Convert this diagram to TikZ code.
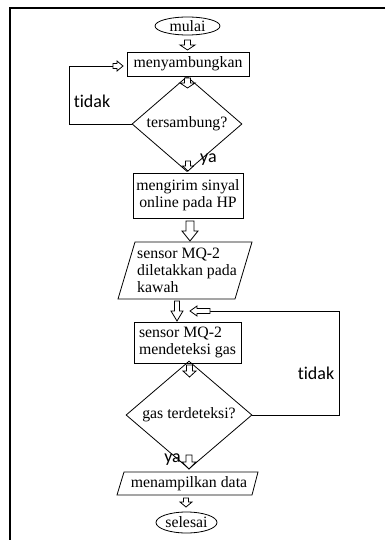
\documentclass[tikz,border=0pt]{standalone}
\usepackage{fontspec}
\setmainfont{Liberation Serif}
\newfontfamily\carl[Ligatures=NoCommon]{Carlito}
\usetikzlibrary{shapes.geometric}
\tikzset{
  box/.style={draw, line width=0.8pt, inner sep=0pt, font=\fontsize{15.8}{17}\selectfont},
  term/.style={box, ellipse},
  dec/.style={box, diamond},
  harr/.style={draw, line width=0.8pt, fill=white, line join=miter},
  conn/.style={draw, line width=0.8pt},
  lbl/.style={font=\carl\fontsize{18}{20}\selectfont, inner sep=0pt},
  ptext/.style={inner sep=0pt, align=left, font=\fontsize{15.8}{17}\selectfont},
  frame/.style={draw, line width=1.3pt}
}
\newcommand\dnarrow[6]{% x, ytop, ybot, headw, shaftw, headlen
  \draw[harr] ({#1-#5/2},#2) -- ({#1+#5/2},#2) -- ({#1+#5/2},{#3-#6}) -- ({#1+#4/2},{#3-#6}) -- (#1,#3) -- ({#1-#4/2},{#3-#6}) -- ({#1-#5/2},{#3-#6}) -- cycle;}
\newcommand\rtarrow[6]{% y, xleft, xright, headh, shafth, headlen
  \draw[harr] (#2,{#1-#5/2}) -- (#2,{#1+#5/2}) -- ({#3-#6},{#1+#5/2}) -- ({#3-#6},{#1+#4/2}) -- (#3,#1) -- ({#3-#6},{#1-#4/2}) -- ({#3-#6},{#1-#5/2}) -- cycle;}
\newcommand\ltarrow[6]{% y, xleft(tip), xright, headh, shafth, headlen
  \draw[harr] (#3,{#1-#5/2}) -- (#3,{#1+#5/2}) -- ({#2+#6},{#1+#5/2}) -- ({#2+#6},{#1+#4/2}) -- (#2,#1) -- ({#2+#6},{#1-#4/2}) -- ({#2+#6},{#1-#5/2}) -- cycle;}
\begin{document}
\begin{tikzpicture}[x=1pt,y=-1pt]
\useasboundingbox (0,0) rectangle (385,540);
% frame
\draw[frame] (385,8) -- (10,8) -- (10,540);

% nodes
\node[term, minimum width=65pt, minimum height=18pt] (mulai) at (187.5,26) {mulai};
\node[box, minimum width=122pt, minimum height=24pt] (sambung) at (188,64) {menyambungkan};
\node[dec, minimum width=110pt, minimum height=70pt] (tersambung) at (187,124) {tersambung?};
\node[box, minimum width=110pt, minimum height=45pt, align=center] (kirim) at (188,195.5) {mengirim sinyal\\online pada HP};

\draw[conn] (135,242) -- (252,242) -- (235,299) -- (118,299) -- cycle;
\node[ptext, anchor=west] (letak) at (137,270.5) {sensor MQ-2\\diletakkan pada\\kawah};

\node[box, minimum width=107pt, minimum height=41pt, align=left] (deteksi) at (187.5,342.5) {sensor MQ-2\\mendeteksi gas};
\node[dec, minimum width=126pt, minimum height=72pt] (gas) at (189,415) {gas terdeteksi?};

\draw[conn] (124,472) -- (258,472) -- (252,495) -- (117,495) -- cycle;
\node[ptext] (tampil) at (189,483.5) {menampilkan data};

\node[term, minimum width=61pt, minimum height=21pt] (selesai) at (186.5,522.5) {selesai};

% hollow arrows between nodes
\dnarrow{187.5}{40}{50}{15}{6}{5}
\dnarrow{187.5}{78}{88}{15}{6}{5}
\dnarrow{188}{161}{171}{11}{5}{5}
\dnarrow{190}{221}{241}{16}{8}{10}
\dnarrow{177}{301}{321}{12}{5}{10}
\dnarrow{189.5}{365}{377}{13}{6}{6}
\dnarrow{189}{455}{469}{14}{6}{7}
\dnarrow{186}{498}{507}{12}{5}{5}

% loop 1
\coordinate (l1) at (113,66);
\draw[conn] (tersambung.west) -- (tersambung.west -| 69,0) |- (l1);
\rtarrow{66}{113}{123}{10}{5}{6}
\node[lbl] (tidak1) at (92,101) {tidak};
\node[lbl, anchor=west] (ya1) at (200,160) {ya};

% loop 2
\coordinate (l2) at (210,311);
\draw[conn] (gas.east) -- (gas.east -| 339,0) |- (l2);
\ltarrow{311}{190}{210}{10}{5}{7}
\node[lbl] (tidak2) at (316,373) {tidak};
\node[lbl, anchor=east] (ya2) at (181,460) {ya};
\end{tikzpicture}
\end{document}
